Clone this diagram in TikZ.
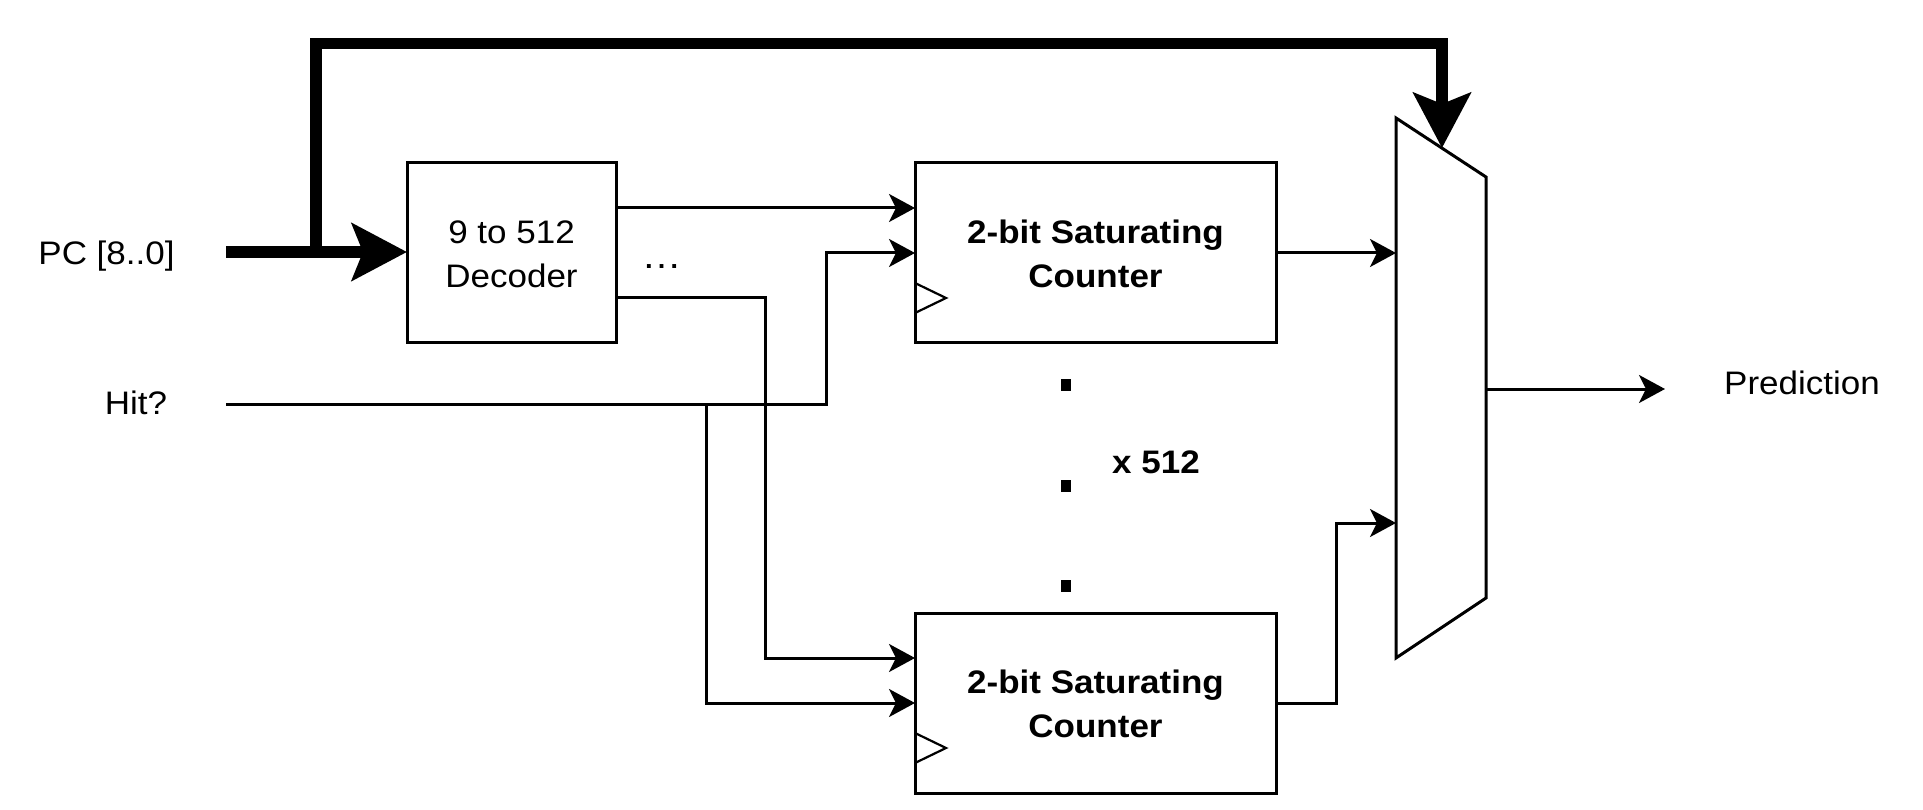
\documentclass[tikz,border=0pt]{standalone}
\usepackage{fontspec}
\setmainfont{Liberation Sans}
\usepackage{graphicx}
\usetikzlibrary{arrows.meta,calc}
\newcommand\sqz[1]{\scalebox{1}[0.93]{#1}}
\newcommand\twoln[2]{\scalebox{1}[0.93]{\begin{tabular}{@{}c@{}}#1\\#2\end{tabular}}}
\begin{document}
\begin{tikzpicture}[x=1pt,y=-1pt,
  txt/.style={font=\fontsize{35}{47.3}\selectfont, inner sep=0pt, outer sep=0pt},
  btxt/.style={font=\fontsize{35}{47.3}\selectfont\bfseries, inner sep=0pt, outer sep=0pt},
  blk/.style={draw, line width=3pt, inner sep=0pt, outer sep=0pt},
  wire/.style={line width=3pt, -{Stealth[length=26pt,width=28pt,inset=7pt]}},
  plainline/.style={line width=3pt},
  bus/.style={line width=11.5pt, -{Stealth[length=55pt,width=57pt,inset=11pt]}},
  clk/.style={line width=2.2pt},
  dotbox/.style={fill=black, inner sep=0pt, outer sep=0pt, minimum width=10pt, minimum height=12pt}]
\useasboundingbox (0,0) rectangle (1923,810);

% blocks
\node[blk, minimum width=209pt, minimum height=180pt] (dec) at (511.5,253) {};
\node[blk, minimum width=361pt, minimum height=180pt] (c1) at (1095.5,253) {};
\node[blk, minimum width=361pt, minimum height=180pt] (c2) at (1095.5,703) {};
\node[txt] (dectxt) at (511.5,257) {\twoln{9 to 512}{Decoder}};
\node[btxt] (c1txt) at (1095.5,257) {\twoln{2-bit Saturating}{Counter}};
\node[btxt] (c2txt) at (1095.5,707) {\twoln{2-bit Saturating}{Counter}};

% clock marks
\draw[clk] ($(c1.south west)+(0,-60)$) -- ++(31,15) -- ++(-31,15);
\draw[clk] ($(c2.south west)+(0,-60)$) -- ++(31,15) -- ++(-31,15);

% mux
\coordinate (mA) at (1396,118);
\coordinate (mB) at (1486,177);
\coordinate (mC) at (1486,598);
\coordinate (mD) at (1396,658);
\draw[plainline] (mA) -- (mB) -- (mC) -- (mD) -- cycle;
\coordinate (min1) at (1396,253);
\coordinate (min2) at (1396,523);
\coordinate (mout) at (1486,389);
\coordinate (msel) at (1442,148);

% labels
\node[txt, anchor=base] (pc) at (106.5,265) {\sqz{PC [8..0]}};
\node[txt, anchor=base] (hit) at (136,414.5) {\sqz{Hit?}};
\node[txt, anchor=base] (pred) at (1802,395) {\sqz{Prediction}};
\node[btxt, anchor=base] (x512) at (1156,473) {\sqz{x 512}};
\node[txt, anchor=base, font=\fontsize{40}{48}\selectfont] (ell) at (661.5,269) {\sqz{…}};

% dots
\node[dotbox] (d1) at (1066,385) {};
\node[dotbox] (d2) at (1066,486) {};
\node[dotbox] (d3) at (1066,586) {};

% free ends
\coordinate (busin) at (226,252);
\coordinate (busbr) at (316,252);
\coordinate (topr) at (1442,43.3);
\coordinate (hitin) at (226,404);
\coordinate (hitbr) at (706,404);
\coordinate (predin) at (1665,389);

% buses
\draw[bus] (busin) -- (busin -| dec.west);
\draw[bus] (busbr) |- (topr) -- (msel);

% wires
\draw[wire] ($(dec.east)+(0,-45)$) -- ($(c1.west)+(0,-45)$);
\draw[wire] ($(dec.east)+(0,45)$) -- ++(149.5,0) |- ($(c2.west)+(0,-45)$);
\draw[wire] (hitin) -| ($(c1.west)+(-89,0)$) -- (c1.west);
\draw[wire] (hitbr) |- (c2.west);
\draw[wire] (c1.east) -- (min1);
\draw[wire] (c2.east) -- ++(60.5,0) |- (min2);
\draw[wire] (mout) -- (predin);
\end{tikzpicture}
\end{document}
